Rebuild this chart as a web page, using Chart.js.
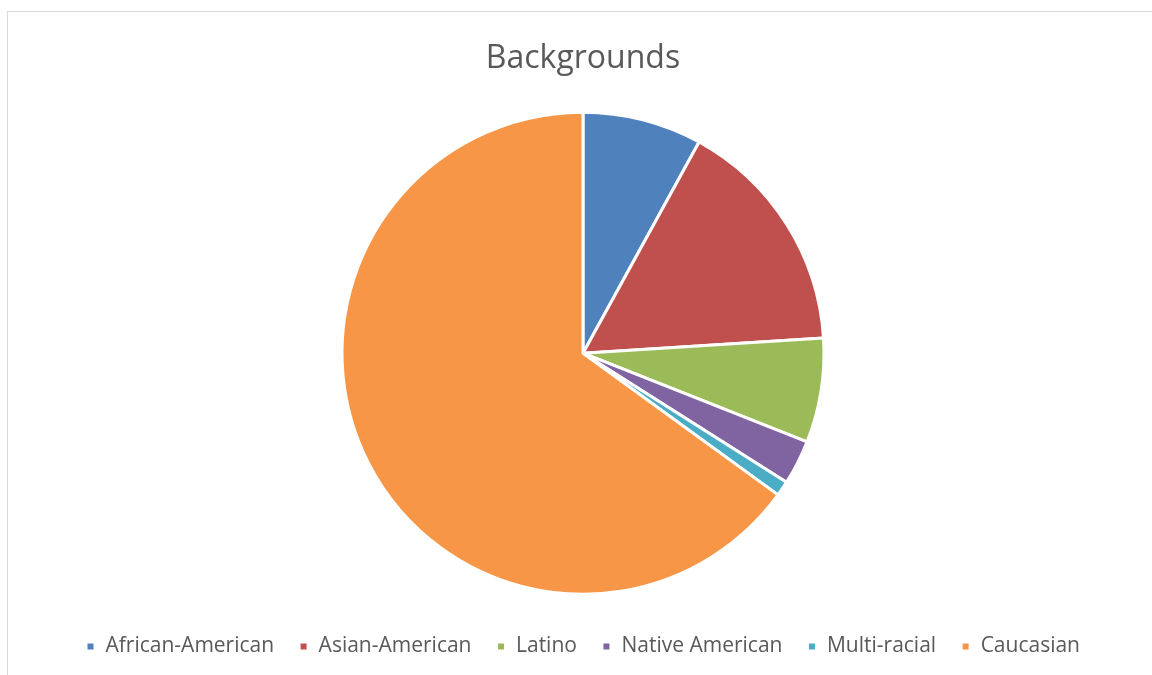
<!DOCTYPE html>
<html>
<head>
<meta charset="utf-8">
<script src="https://cdn.jsdelivr.net/npm/chart.js"></script>
<style>
  html, body { margin: 0; padding: 0; background: #fff; overflow: hidden; }
  #frame {
    position: absolute; left: 7px; top: 11px; width: 1160px; height: 680px;
    border-left: 1.5px solid #d9d9d9; border-top: 1.5px solid #d9d9d9;
  }
  #wrap { position: absolute; left: 8px; top: 11px; width: 1150px; height: 664px; }
</style>
</head>
<body>
<div id="frame"></div>
<div id="wrap"><canvas id="chart"></canvas></div>
<script>
const labels = ['African-American', 'Asian-American', 'Latino', 'Native American', 'Multi-racial', 'Caucasian'];
const shares = [8, 16, 7, 3, 1, 65];
const colors = ['#4F81BD', '#C0504D', '#9BBB59', '#8064A2', '#4BACC6', '#F79646'];

const textColor = '#595959';

new Chart(document.getElementById('chart'), {
  type: 'pie',
  data: {
    labels: labels,
    datasets: [{
      data: shares,
      backgroundColor: colors,
      borderColor: '#ffffff',
      borderWidth: 3,
      hoverOffset: 0,
      radius: 241
    }]
  },
  options: {
    responsive: true,
    maintainAspectRatio: false,
    animation: false,
    layout: { padding: { top: 0, bottom: 8 } },
    plugins: {
      title: {
        display: true,
        text: 'Backgrounds',
        color: textColor,
        font: { family: 'Open Sans', size: 32, weight: 'normal' },
        padding: { top: 29, bottom: 17 }
      },
      legend: {
        position: 'bottom',
        labels: {
          color: textColor,
          font: { family: 'Open Sans', size: 21 },
          boxWidth: 9,
          boxHeight: 9,
          padding: 25
        }
      },
      tooltip: { enabled: false }
    }
  }
});
</script>
</body>
</html>
